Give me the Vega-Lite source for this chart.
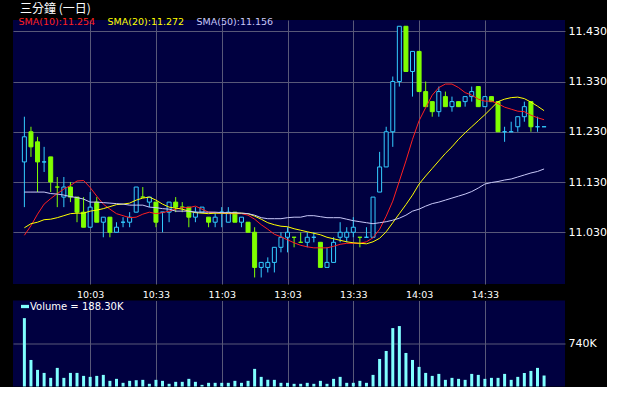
{
"$schema":"https://vega.github.io/schema/vega-lite/v6.json",
"background":"black",
"padding":{"left":9,"top":3,"right":0,"bottom":0},
"title":{"text":"三分鐘 (一日)","anchor":"start","color":"white","font":"Noto Sans CJK TC","fontSize":12,"fontWeight":"normal","offset":1,"dx":11},
"spacing":1.5,
"config":{
 "view":{"fill":"#000040","stroke":null},
 "axis":{"gridColor":"#585878","gridWidth":1,"gridOpacity":1,"labelColor":"white","labelFont":"DejaVu Sans","ticks":false,"domain":false,"title":null},
 "legend":{"labelColor":"white","labelFont":"DejaVu Sans","padding":0}
},
"datasets":{"d":[
{"i":0,"o":11.17,"h":11.26,"l":11.08,"c":11.22,"dir":"up","v":1172000,"s10":11.024,"s20":11.039,"s50":11.110},
{"i":1,"o":11.23,"h":11.24,"l":11.18,"c":11.20,"dir":"down","v":455000,"s10":11.043,"s20":11.047,"s50":11.110},
{"i":2,"o":11.21,"h":11.22,"l":11.11,"c":11.17,"dir":"down","v":285000,"s10":11.066,"s20":11.050,"s50":11.110},
{"i":3,"o":11.17,"h":11.20,"l":11.15,"c":11.17,"dir":"up","v":233000,"s10":11.086,"s20":11.055,"s50":11.110},
{"i":4,"o":11.18,"h":11.18,"l":11.11,"c":11.13,"dir":"down","v":148000,"s10":11.097,"s20":11.056,"s50":11.107},
{"i":5,"o":11.12,"h":11.14,"l":11.08,"c":11.12,"dir":"down","v":319000,"s10":11.107,"s20":11.059,"s50":11.106},
{"i":6,"o":11.10,"h":11.14,"l":11.08,"c":11.12,"dir":"up","v":148000,"s10":11.116,"s20":11.063,"s50":11.104},
{"i":7,"o":11.12,"h":11.13,"l":11.09,"c":11.10,"dir":"down","v":233000,"s10":11.123,"s20":11.067,"s50":11.101},
{"i":8,"o":11.10,"h":11.10,"l":11.05,"c":11.07,"dir":"down","v":233000,"s10":11.132,"s20":11.068,"s50":11.099},
{"i":9,"o":11.07,"h":11.10,"l":11.04,"c":11.04,"dir":"down","v":182000,"s10":11.133,"s20":11.068,"s50":11.096},
{"i":10,"o":11.04,"h":11.11,"l":11.04,"c":11.08,"dir":"up","v":165000,"s10":11.119,"s20":11.072,"s50":11.090},
{"i":11,"o":11.09,"h":11.10,"l":11.05,"c":11.05,"dir":"down","v":182000,"s10":11.102,"s20":11.074,"s50":11.090},
{"i":12,"o":11.05,"h":11.06,"l":11.02,"c":11.06,"dir":"up","v":199000,"s10":11.086,"s20":11.077,"s50":11.089},
{"i":13,"o":11.06,"h":11.06,"l":11.02,"c":11.03,"dir":"down","v":97000,"s10":11.076,"s20":11.081,"s50":11.088},
{"i":14,"o":11.03,"h":11.05,"l":11.03,"c":11.04,"dir":"up","v":131000,"s10":11.067,"s20":11.085,"s50":11.087},
{"i":15,"o":11.05,"h":11.06,"l":11.04,"c":11.05,"dir":"up","v":63000,"s10":11.063,"s20":11.086,"s50":11.086},
{"i":16,"o":11.05,"h":11.07,"l":11.04,"c":11.06,"dir":"up","v":97000,"s10":11.059,"s20":11.088,"s50":11.084},
{"i":17,"o":11.07,"h":11.12,"l":11.07,"c":11.12,"dir":"up","v":108000,"s10":11.060,"s20":11.094,"s50":11.084},
{"i":18,"o":11.10,"h":11.12,"l":11.10,"c":11.10,"dir":"down","v":114000,"s10":11.066,"s20":11.098,"s50":11.084},
{"i":19,"o":11.09,"h":11.10,"l":11.08,"c":11.10,"dir":"up","v":46000,"s10":11.070,"s20":11.100,"s50":11.080},
{"i":20,"o":11.09,"h":11.09,"l":11.04,"c":11.05,"dir":"down","v":114000,"s10":11.067,"s20":11.094,"s50":11.079},
{"i":21,"o":11.07,"h":11.07,"l":11.03,"c":11.07,"dir":"up","v":97000,"s10":11.069,"s20":11.086,"s50":11.077},
{"i":22,"o":11.07,"h":11.09,"l":11.05,"c":11.09,"dir":"up","v":46000,"s10":11.072,"s20":11.080,"s50":11.076},
{"i":23,"o":11.09,"h":11.10,"l":11.07,"c":11.08,"dir":"down","v":80000,"s10":11.076,"s20":11.078,"s50":11.072},
{"i":24,"o":11.08,"h":11.09,"l":11.07,"c":11.08,"dir":"down","v":80000,"s10":11.079,"s20":11.076,"s50":11.072},
{"i":25,"o":11.08,"h":11.08,"l":11.04,"c":11.06,"dir":"down","v":131000,"s10":11.079,"s20":11.072,"s50":11.072},
{"i":26,"o":11.06,"h":11.08,"l":11.05,"c":11.07,"dir":"up","v":80000,"s10":11.082,"s20":11.069,"s50":11.070},
{"i":27,"o":11.07,"h":11.08,"l":11.07,"c":11.08,"dir":"up","v":28000,"s10":11.076,"s20":11.068,"s50":11.070},
{"i":28,"o":11.06,"h":11.06,"l":11.04,"c":11.05,"dir":"down","v":63000,"s10":11.070,"s20":11.067,"s50":11.070},
{"i":29,"o":11.05,"h":11.07,"l":11.04,"c":11.06,"dir":"up","v":63000,"s10":11.069,"s20":11.068,"s50":11.070},
{"i":30,"o":11.07,"h":11.08,"l":11.04,"c":11.07,"dir":"up","v":63000,"s10":11.068,"s20":11.068,"s50":11.069},
{"i":31,"o":11.05,"h":11.08,"l":11.05,"c":11.07,"dir":"up","v":63000,"s10":11.067,"s20":11.068,"s50":11.069},
{"i":32,"o":11.07,"h":11.07,"l":11.05,"c":11.05,"dir":"down","v":97000,"s10":11.067,"s20":11.068,"s50":11.069},
{"i":33,"o":11.05,"h":11.06,"l":11.04,"c":11.06,"dir":"up","v":63000,"s10":11.067,"s20":11.068,"s50":11.068},
{"i":34,"o":11.05,"h":11.05,"l":11.03,"c":11.03,"dir":"down","v":97000,"s10":11.064,"s20":11.067,"s50":11.067},
{"i":35,"o":11.03,"h":11.04,"l":10.94,"c":10.96,"dir":"down","v":302000,"s10":11.056,"s20":11.062,"s50":11.064},
{"i":36,"o":10.96,"h":10.97,"l":10.94,"c":10.97,"dir":"up","v":165000,"s10":11.045,"s20":11.056,"s50":11.059},
{"i":37,"o":10.96,"h":10.98,"l":10.95,"c":10.97,"dir":"up","v":114000,"s10":11.036,"s20":11.049,"s50":11.057},
{"i":38,"o":10.97,"h":11.00,"l":10.95,"c":11.00,"dir":"up","v":114000,"s10":11.026,"s20":11.045,"s50":11.057},
{"i":39,"o":11.00,"h":11.03,"l":10.99,"c":11.02,"dir":"up","v":63000,"s10":11.021,"s20":11.042,"s50":11.057},
{"i":40,"o":11.02,"h":11.04,"l":10.99,"c":11.03,"dir":"up","v":63000,"s10":11.015,"s20":11.041,"s50":11.059},
{"i":41,"o":11.02,"h":11.02,"l":11.00,"c":11.02,"dir":"down","v":46000,"s10":11.009,"s20":11.037,"s50":11.060},
{"i":42,"o":11.01,"h":11.03,"l":11.01,"c":11.01,"dir":"down","v":46000,"s10":11.004,"s20":11.034,"s50":11.060},
{"i":43,"o":11.01,"h":11.03,"l":11.00,"c":11.02,"dir":"up","v":63000,"s10":11.001,"s20":11.031,"s50":11.063},
{"i":44,"o":11.02,"h":11.03,"l":11.01,"c":11.02,"dir":"up","v":46000,"s10":10.999,"s20":11.028,"s50":11.063},
{"i":45,"o":11.01,"h":11.01,"l":10.96,"c":10.96,"dir":"down","v":97000,"s10":10.999,"s20":11.025,"s50":11.061},
{"i":46,"o":10.96,"h":11.00,"l":10.96,"c":10.97,"dir":"up","v":46000,"s10":10.999,"s20":11.020,"s50":11.059},
{"i":47,"o":10.97,"h":11.02,"l":10.97,"c":11.01,"dir":"up","v":131000,"s10":11.002,"s20":11.017,"s50":11.059},
{"i":48,"o":11.02,"h":11.05,"l":11.01,"c":11.03,"dir":"up","v":165000,"s10":11.006,"s20":11.014,"s50":11.059},
{"i":49,"o":11.02,"h":11.04,"l":11.01,"c":11.03,"dir":"up","v":63000,"s10":11.008,"s20":11.011,"s50":11.056},
{"i":50,"o":11.03,"h":11.06,"l":11.02,"c":11.04,"dir":"up","v":63000,"s10":11.008,"s20":11.009,"s50":11.053},
{"i":51,"o":11.02,"h":11.02,"l":11.00,"c":11.02,"dir":"down","v":97000,"s10":11.008,"s20":11.008,"s50":11.051},
{"i":52,"o":11.02,"h":11.04,"l":11.02,"c":11.02,"dir":"up","v":63000,"s10":11.011,"s20":11.007,"s50":11.049},
{"i":53,"o":11.02,"h":11.10,"l":11.02,"c":11.10,"dir":"up","v":199000,"s10":11.019,"s20":11.011,"s50":11.047},
{"i":54,"o":11.11,"h":11.19,"l":11.11,"c":11.16,"dir":"up","v":472000,"s10":11.036,"s20":11.018,"s50":11.049},
{"i":55,"o":11.16,"h":11.24,"l":11.16,"c":11.23,"dir":"up","v":609000,"s10":11.062,"s20":11.031,"s50":11.051},
{"i":56,"o":11.23,"h":11.34,"l":11.20,"c":11.33,"dir":"up","v":1001000,"s10":11.092,"s20":11.049,"s50":11.054},
{"i":57,"o":11.33,"h":11.44,"l":11.32,"c":11.44,"dir":"up","v":1036000,"s10":11.132,"s20":11.067,"s50":11.058},
{"i":58,"o":11.44,"h":11.44,"l":11.35,"c":11.35,"dir":"down","v":575000,"s10":11.172,"s20":11.085,"s50":11.064},
{"i":59,"o":11.35,"h":11.39,"l":11.30,"c":11.39,"dir":"up","v":455000,"s10":11.215,"s20":11.104,"s50":11.072},
{"i":60,"o":11.39,"h":11.39,"l":11.31,"c":11.31,"dir":"down","v":336000,"s10":11.252,"s20":11.126,"s50":11.076},
{"i":61,"o":11.31,"h":11.33,"l":11.28,"c":11.28,"dir":"down","v":233000,"s10":11.278,"s20":11.142,"s50":11.082},
{"i":62,"o":11.29,"h":11.29,"l":11.26,"c":11.27,"dir":"down","v":182000,"s10":11.303,"s20":11.157,"s50":11.087},
{"i":63,"o":11.27,"h":11.32,"l":11.26,"c":11.31,"dir":"up","v":216000,"s10":11.318,"s20":11.172,"s50":11.090},
{"i":64,"o":11.30,"h":11.31,"l":11.28,"c":11.28,"dir":"down","v":114000,"s10":11.325,"s20":11.187,"s50":11.094},
{"i":65,"o":11.28,"h":11.30,"l":11.27,"c":11.29,"dir":"up","v":148000,"s10":11.325,"s20":11.200,"s50":11.098},
{"i":66,"o":11.29,"h":11.29,"l":11.28,"c":11.28,"dir":"down","v":131000,"s10":11.318,"s20":11.215,"s50":11.102},
{"i":67,"o":11.29,"h":11.30,"l":11.28,"c":11.30,"dir":"up","v":114000,"s10":11.308,"s20":11.228,"s50":11.106},
{"i":68,"o":11.30,"h":11.32,"l":11.29,"c":11.31,"dir":"up","v":216000,"s10":11.303,"s20":11.240,"s50":11.111},
{"i":69,"o":11.32,"h":11.32,"l":11.28,"c":11.28,"dir":"down","v":199000,"s10":11.295,"s20":11.252,"s50":11.118},
{"i":70,"o":11.28,"h":11.30,"l":11.28,"c":11.30,"dir":"up","v":131000,"s10":11.291,"s20":11.264,"s50":11.126},
{"i":71,"o":11.30,"h":11.30,"l":11.29,"c":11.29,"dir":"down","v":148000,"s10":11.291,"s20":11.277,"s50":11.129},
{"i":72,"o":11.29,"h":11.29,"l":11.23,"c":11.23,"dir":"down","v":148000,"s10":11.286,"s20":11.290,"s50":11.131},
{"i":73,"o":11.23,"h":11.24,"l":11.21,"c":11.23,"dir":"up","v":216000,"s10":11.279,"s20":11.295,"s50":11.134},
{"i":74,"o":11.23,"h":11.25,"l":11.23,"c":11.23,"dir":"up","v":114000,"s10":11.275,"s20":11.298,"s50":11.136},
{"i":75,"o":11.24,"h":11.26,"l":11.23,"c":11.26,"dir":"up","v":165000,"s10":11.271,"s20":11.299,"s50":11.140},
{"i":76,"o":11.26,"h":11.29,"l":11.25,"c":11.28,"dir":"up","v":233000,"s10":11.270,"s20":11.296,"s50":11.144},
{"i":77,"o":11.29,"h":11.29,"l":11.23,"c":11.24,"dir":"down","v":267000,"s10":11.263,"s20":11.289,"s50":11.148},
{"i":78,"o":11.24,"h":11.26,"l":11.23,"c":11.24,"dir":"up","v":319000,"s10":11.258,"s20":11.281,"s50":11.151},
{"i":79,"o":11.24,"h":11.24,"l":11.24,"c":11.24,"dir":"up","v":188300,"s10":11.254,"s20":11.272,"s50":11.156}
]},
"vconcat":[
{
 "width":552,"height":264,
 "data":{"name":"d"},
 "layer":[
  {"mark":{"type":"rule","strokeWidth":1},
   "encoding":{
    "x":{"field":"i","type":"quantitative","scale":{"domain":[-0.97,81.42],"nice":false,"zero":false},
         "axis":{"values":[10,20,30,40,50,60,70],"grid":true,"labelFontSize":9.5,"labelPadding":5,
                 "labelExpr":"['10:03','10:33','11:03','13:03','13:33','14:03','14:33'][round(datum.value/10)-1]"}},
    "y":{"field":"l","type":"quantitative","scale":{"domain":[10.927,11.4525],"nice":false,"zero":false},
         "axis":{"orient":"right","values":[11.03,11.13,11.23,11.33,11.43],"format":".3f","grid":true,"labelFontSize":11,"labelPadding":3}},
    "y2":{"field":"h"},
    "stroke":{"field":"dir","type":"nominal","scale":{"domain":["up","down"],"range":["#33ccff","#80ff00"]},"legend":null}
   }},
  {"mark":{"type":"bar","size":4,"strokeWidth":1},
   "encoding":{
    "x":{"field":"i","type":"quantitative"},
    "y":{"field":"o","type":"quantitative"},
    "y2":{"field":"c"},
    "stroke":{"field":"dir","type":"nominal","legend":null},
    "fill":{"field":"dir","type":"nominal","scale":{"domain":["up","down"],"range":["#000040","#80ff00"]},"legend":null}
   }},
  {"transform":[{"fold":["s10","s20","s50"],"as":["series","value"]}],
   "mark":{"type":"line","strokeWidth":1},
   "encoding":{
    "x":{"field":"i","type":"quantitative"},
    "y":{"field":"value","type":"quantitative"},
    "color":{"field":"series","type":"nominal","scale":{"domain":["s10","s20","s50"],"range":["#ff2020","#ffff00","#c8c8f8"]},
      "legend":{"orient":"none","legendX":-4,"legendY":-3,"direction":"horizontal","title":null,"symbolSize":1,"symbolStrokeWidth":0,"symbolOpacity":0,"labelOffset":0,"columnPadding":2,"labelFontSize":9.5,
        "labelExpr":"datum.label=='s10'?'SMA(10):11.254':datum.label=='s20'?'SMA(20):11.272':'SMA(50):11.156'",
        "encode":{"labels":{"update":{"fill":{"signal":"datum.value=='s10'?'#ff2020':datum.value=='s20'?'#ffff00':'#c8c8f8'"}}}}}}
   }}
 ]
},
{
 "width":552,"height":86,
 "data":{"name":"d"},
 "mark":{"type":"bar","size":3},
 "encoding":{
  "x":{"field":"i","type":"quantitative","scale":{"domain":[-0.97,81.42],"nice":false,"zero":false},
       "axis":{"values":[10,20,30,40,50,60,70],"grid":true,"labels":false}},
  "y":{"field":"v","type":"quantitative","scale":{"domain":[0,1474000],"nice":false},
       "axis":{"orient":"right","values":[740000],"labelExpr":"'740K'","grid":true,"labelFontSize":11,"labelPadding":3}},
  "color":{"datum":"Volume = 188.30K","type":"nominal","scale":{"range":["#80ffff"]},
    "legend":{"orient":"none","legendX":7,"legendY":1,"title":null,"symbolType":"M-1,-0.41H1V0.41H-1Z","symbolSize":64,"symbolStrokeWidth":0,"labelOffset":0,"labelFontSize":10}}
 }
}
],
"resolve":{"scale":{"color":"independent","fill":"independent","stroke":"independent"},"legend":{"color":"independent"}}
}
